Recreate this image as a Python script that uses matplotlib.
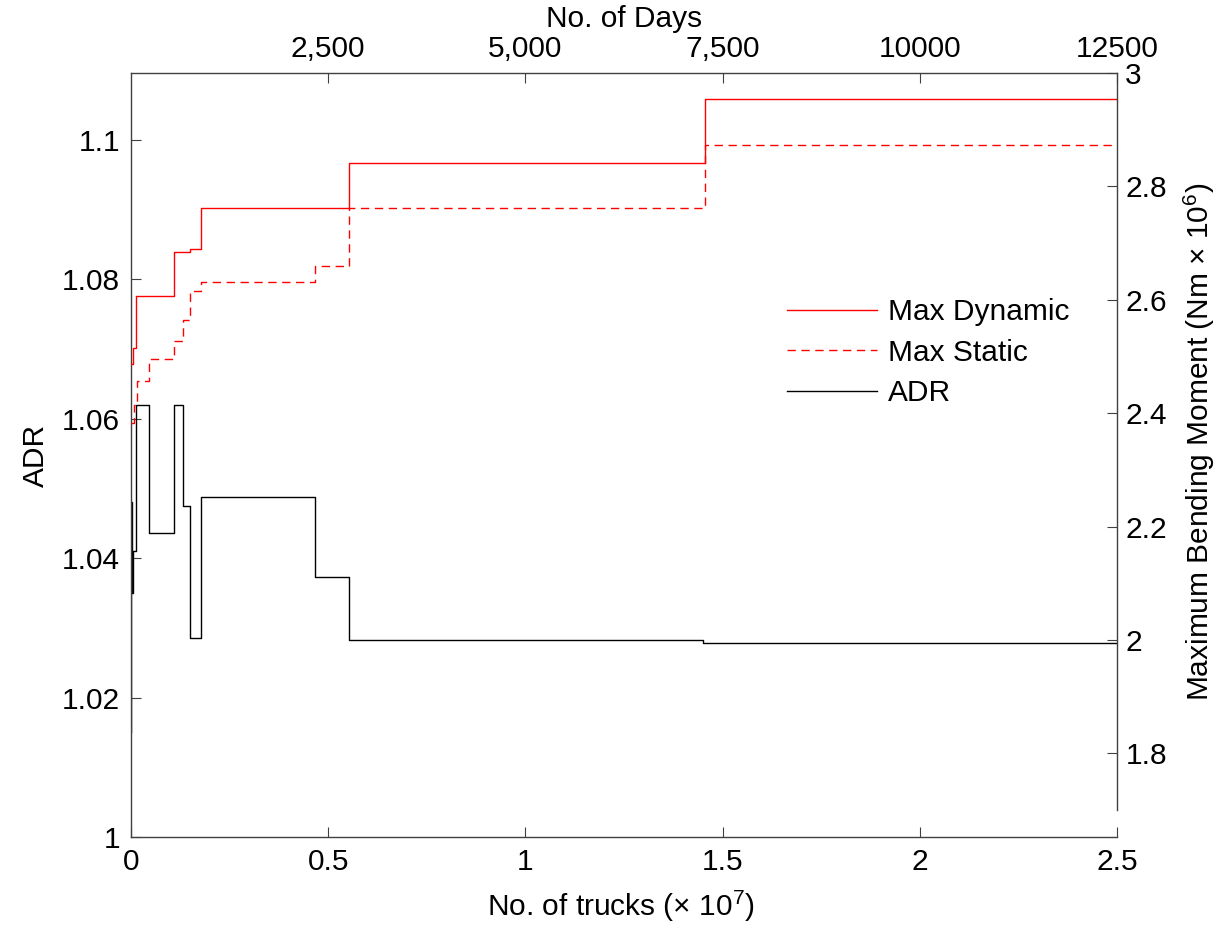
import matplotlib
matplotlib.use("Agg")
import matplotlib.pyplot as plt

plt.rcParams['font.family'] = ['Liberation Sans', 'DejaVu Sans']
plt.rcParams['mathtext.fontset'] = 'custom'
plt.rcParams['mathtext.rm'] = 'Liberation Sans'
plt.rcParams['mathtext.it'] = 'Liberation Sans:italic'
plt.rcParams['font.size'] = 21.5

# data (trucks in units of 1e7)
trucks_dyn = [0, 0.005, 0.012, 0.109, 0.149, 0.177, 0.553, 0.697, 1.455, 2.5]
max_dynamic = [2.487, 2.515, 2.607, 2.685, 2.689, 2.761, 2.841, 2.842, 2.954, 2.954]

trucks_sta = [0, 0.008, 0.014, 0.046, 0.109, 0.132, 0.149, 0.177, 0.467, 0.553, 1.455, 2.5]
max_static = [2.382, 2.415, 2.457, 2.496, 2.527, 2.565, 2.616, 2.632, 2.660, 2.761, 2.873, 2.873]

trucks_adr = [0, 0.001, 0.003, 0.006, 0.012, 0.046, 0.109, 0.132, 0.149, 0.177, 0.467, 0.553, 1.45, 2.5]
adr = [1.015, 1.048, 1.035, 1.041, 1.062, 1.0436, 1.062, 1.0475, 1.0286, 1.0488, 1.0373, 1.0283, 1.0279, 1.0279]

trucks_per_day = 2000  # 2.5e7 trucks <-> 12500 days
day_ticks = [2500, 5000, 7500, 10000, 12500]
day_labels = ["2,500", "5,000", "7,500", "10000", "12500"]

W, H = 1221, 927
fig = plt.figure(figsize=(W / 100, H / 100), dpi=100)

L, R = 131, 1117
top, bot1, bot2 = 73, 837, 810
ax1 = fig.add_axes([L / W, 1 - bot1 / H, (R - L) / W, (bot1 - top) / H])
ax2 = fig.add_axes([L / W, 1 - bot2 / H, (R - L) / W, (bot2 - top) / H])
ax2.patch.set_alpha(0)

spine_col = '#404040'

# left axes: ADR
l_adr, = ax1.plot(trucks_adr, adr, drawstyle='steps-post', color='k', lw=1.0)
ax1.set_xlim(0, 2.5)
ax1.set_ylim(1, 1.1096)
ax1.set_xticks([0, 0.5, 1, 1.5, 2, 2.5])
ax1.set_xticklabels(["0", "0.5", "1", "1.5", "2", "2.5"])
ax1.set_yticks([1, 1.02, 1.04, 1.06, 1.08, 1.1])
ax1.set_yticklabels(["1", "1.02", "1.04", "1.06", "1.08", "1.1"])
ax1.spines['top'].set_visible(False)
ax1.spines['right'].set_visible(False)
for s in ['left', 'bottom']:
    ax1.spines[s].set_color(spine_col)
    ax1.spines[s].set_linewidth(1.0)
ax1.tick_params(direction='in', length=7, width=0.8, color=spine_col, pad=8)
ax1.set_xlabel("No. of trucks (× 10$^{7}$)")
ax1.set_ylabel("ADR")
ax1.xaxis.set_label_coords(0.497, -0.068)
ax1.yaxis.set_label_coords(-0.082, 0.5)

# right/top axes: bending moment vs days
days_dyn = [t * 1e7 / trucks_per_day for t in trucks_dyn]
days_sta = [t * 1e7 / trucks_per_day for t in trucks_sta]
l_dyn, = ax2.plot(days_dyn, max_dynamic, drawstyle='steps-post', color='red', lw=1.0)
l_sta, = ax2.plot(days_sta, max_static, drawstyle='steps-post', color='red', lw=1.0,
                  dashes=(6, 4))
ax2.set_xlim(0, 12500)
ax2.set_ylim(1.7, 3)
ax2.xaxis.tick_top()
ax2.xaxis.set_label_position('top')
ax2.yaxis.tick_right()
ax2.yaxis.set_label_position('right')
ax2.set_xticks(day_ticks)
ax2.set_xticklabels(day_labels)
ax2.set_yticks([1.8, 2, 2.2, 2.4, 2.6, 2.8, 3])
ax2.set_yticklabels(["1.8", "2", "2.2", "2.4", "2.6", "2.8", "3"])
ax2.spines['left'].set_visible(False)
ax2.spines['bottom'].set_visible(False)
for s in ['top', 'right']:
    ax2.spines[s].set_color(spine_col)
    ax2.spines[s].set_linewidth(1.0)
ax2.tick_params(direction='in', length=7, width=0.8, color=spine_col)
ax2.tick_params(axis='x', pad=7)
ax2.tick_params(axis='y', pad=6)
ax2.set_xlabel("No. of Days")
ax2.set_ylabel("Maximum Bending Moment (Nm × 10$^{6}$)")
ax2.xaxis.set_label_coords(0.5, 1.063)
ax2.yaxis.set_label_coords(1.066, 0.5)

ax2.legend([l_dyn, l_sta, l_adr], ["Max Dynamic", "Max Static", "ADR"],
           loc='upper left', bbox_to_anchor=(787 / W, 1 - 298 / H),
           bbox_transform=fig.transFigure, frameon=False, borderpad=0,
           borderaxespad=0, handlelength=3.0, handletextpad=0.37,
           labelspacing=0.42, fontsize=21.5)

fig.savefig("out.png", dpi=100)
